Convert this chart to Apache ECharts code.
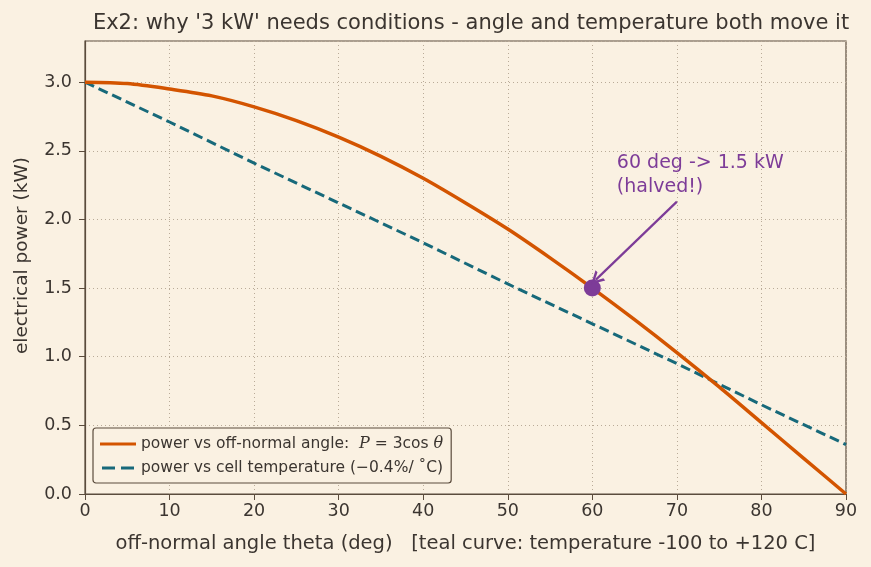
<!DOCTYPE html>
<html>
<head>
<meta charset="utf-8">
<script src="https://cdn.jsdelivr.net/npm/echarts@6/dist/echarts.min.js"></script>
<style>
  html, body { margin: 0; padding: 0; background: #faf1e2; }
  #chart { width: 871px; height: 567px; }
</style>
</head>
<body>
<div id="chart"></div>
<script>
// angle grid (deg) and the two power curves
const angles = [0, 5, 10, 15, 20, 25, 30, 35, 40, 45, 50, 55, 60, 65, 70, 75, 80, 85, 90]
const powerAngle = [3.00, 2.99, 2.95, 2.90, 2.82, 2.72, 2.60, 2.46, 2.30, 2.12, 1.93, 1.72, 1.50, 1.27, 1.03, 0.78, 0.52, 0.26, 0.00]
const tempAngles = [0, 10, 20, 30, 40, 50, 60, 70, 80, 90]
const powerTemp = [3.00, 2.71, 2.41, 2.12, 1.83, 1.53, 1.24, 0.95, 0.65, 0.36]
const highlight = [60, 1.5]
const arrowFrom = [70.0, 2.13]
const arrowTo = [60.4, 1.56]
const noteAt = [62.9, 2.32]

const ink = '#3b3530'
const frame = '#5b4c3d'
const font = "'DejaVu Sans', sans-serif"

const chart = echarts.init(document.getElementById('chart'))
chart.setOption({
  backgroundColor: '#faf1e2',
  textStyle: { fontFamily: font, color: ink },
  title: {
    text: "Ex2: why '3 kW' needs conditions - angle and temperature both move it",
    left: 466, top: 8, textAlign: 'center',
    textStyle: { fontFamily: font, fontSize: 21, fontWeight: 'normal', color: ink }
  },
  grid: {
    left: 85, right: 25, top: 41, bottom: 73,
    show: true, borderColor: frame, borderWidth: 1.2, backgroundColor: 'transparent'
  },
  legend: {
    left: 93, top: 428, orient: 'vertical', itemGap: 8, itemWidth: 36, itemHeight: 3,
    padding: [8, 8, 7, 7],
    backgroundColor: '#faf1e2', borderColor: frame, borderWidth: 1.2, borderRadius: 3,
    textStyle: {
      fontFamily: font, fontSize: 15.5, color: ink,
      rich: { i: { fontFamily: "'DejaVu Serif', serif", fontStyle: 'italic', fontSize: 16, color: ink } }
    },
    formatter: name => name === 'angle'
      ? 'power vs off-normal angle:  {i|P} = 3cos {i|θ}'
      : 'power vs cell temperature (−0.4%/ ˚C)',
    data: [
      { name: 'angle', icon: 'path://M0,0H36V3H0Z', itemStyle: { color: '#d35400' } },
      { name: 'temp', icon: 'path://M0,0H13V3H0Z M19,0H32V3H19Z', itemStyle: { color: '#17697a' } }
    ]
  },
  xAxis: {
    type: 'value', min: 0, max: 90, interval: 10,
    name: 'off-normal angle theta (deg)   [teal curve: temperature -100 to +120 C]',
    nameLocation: 'middle', nameGap: 40,
    nameTextStyle: { fontFamily: font, fontSize: 19.5, color: ink },
    axisLine: { show: true, onZero: false, lineStyle: { color: frame, width: 1.2 } },
    axisTick: { show: true, length: 6, lineStyle: { color: frame } },
    axisLabel: { fontFamily: font, fontSize: 17.5, color: ink, margin: 8 },
    splitLine: { show: true, lineStyle: { color: '#b9ab98', type: [1, 3], width: 1 } }
  },
  yAxis: {
    type: 'value', min: 0, max: 3.3, interval: 0.5,
    name: 'electrical power (kW)',
    nameLocation: 'middle', nameGap: 53,
    nameTextStyle: { fontFamily: font, fontSize: 18.5, color: ink, padding: [0, 0, 0, 24] },
    axisLine: { show: true, onZero: false, lineStyle: { color: frame, width: 1.2 } },
    axisTick: { show: true, length: 6, lineStyle: { color: frame } },
    axisLabel: {
      fontFamily: font, fontSize: 17.5, color: ink, margin: 13, showMaxLabel: false,
      formatter: v => v.toFixed(1)
    },
    splitLine: { show: true, lineStyle: { color: '#b9ab98', type: [1, 3], width: 1 } }
  },
  series: [
    {
      name: 'angle', type: 'line', smooth: 0.3, showSymbol: false, symbol: 'none',
      data: angles.map((a, i) => [a, powerAngle[i]]),
      lineStyle: { color: '#d35400', width: 3.5 },
      itemStyle: { color: '#d35400' },
      z: 3
    },
    {
      name: 'temp', type: 'line', showSymbol: false, symbol: 'none',
      data: tempAngles.map((a, i) => [a, powerTemp[i]]),
      lineStyle: { color: '#17697a', width: 3, type: [10, 5] },
      itemStyle: { color: '#17697a' },
      z: 2
    },
    {
      name: 'point', type: 'scatter', symbolSize: 17,
      data: [highlight],
      itemStyle: { color: '#7d3c98', opacity: 1 },
      z: 5,
      markLine: {
        silent: true, z: 6,
        symbol: ['none', 'path://M0,10 L5,0 L10,10 L8,10 L5,3.8 L2,10 Z'],
        symbolSize: [14, 13],
        lineStyle: { color: '#7d3c98', width: 2.2, type: 'solid' },
        label: { show: false },
        data: [[{ coord: arrowFrom }, { coord: arrowTo }]]
      },
      markPoint: {
        silent: true, symbol: 'circle', symbolSize: 0,
        label: {
          show: true, position: 'right', distance: 0,
          formatter: '60 deg -> 1.5 kW\n(halved!)',
          fontFamily: font, fontSize: 19, lineHeight: 24, color: '#7d3c98', align: 'left'
        },
        data: [{ coord: noteAt }]
      }
    }
  ]
})
</script>
</body>
</html>
